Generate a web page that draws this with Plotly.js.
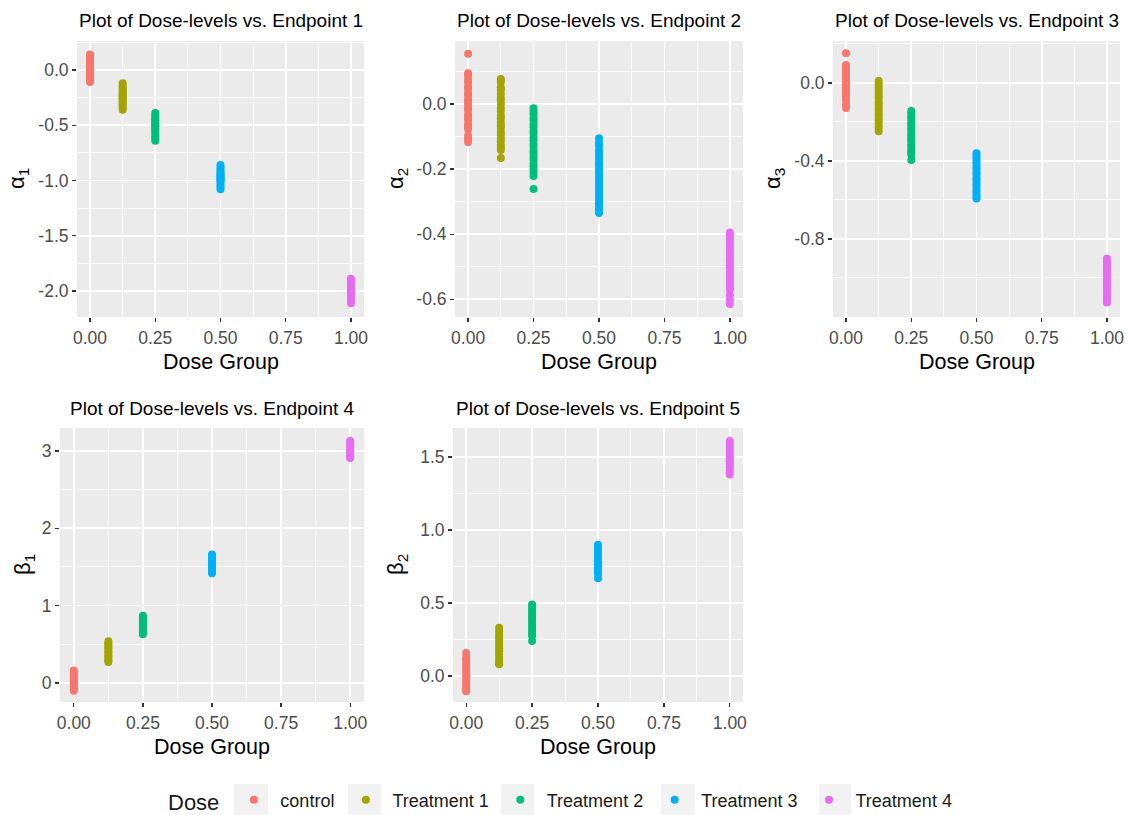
<!DOCTYPE html>
<html>
<head>
<meta charset="utf-8">
<script src="https://cdn.plot.ly/plotly-3.0.1.min.js"></script>
<style>html,body{margin:0;padding:0;background:#fff;}#chart{width:1129px;height:815px;}</style>
</head>
<body>
<div id="chart"></div>
<script>
// ---------------- data ----------------
const groupNames = ["control", "Treatment 1", "Treatment 2", "Treatment 3", "Treatment 4"];
const doseLevels = [0, 0.125, 0.25, 0.5, 1];
const groupColors = ["#F8766D", "#A3A500", "#00BF7D", "#00B0F6", "#E76BF3"];

const endpointTitles = [
  "Plot of Dose-levels vs. Endpoint 1",
  "Plot of Dose-levels vs. Endpoint 2",
  "Plot of Dose-levels vs. Endpoint 3",
  "Plot of Dose-levels vs. Endpoint 4",
  "Plot of Dose-levels vs. Endpoint 5"
];
const yLabels = ["α<sub>1</sub>", "α<sub>2</sub>", "α<sub>3</sub>", "β<sub>1</sub>", "β<sub>2</sub>"];
const xLabel = "Dose Group";
const xTickVals = [0, 0.25, 0.5, 0.75, 1];
const xTickText = ["0.00", "0.25", "0.50", "0.75", "1.00"];

// Endpoint 1 (alpha1)
const ep1_control = [0.14, 0.12, 0.10, 0.09, 0.07, 0.06, 0.05, 0.04, 0.03, 0.02, 0.01, 0.00, -0.01, -0.02, -0.03, -0.05, -0.06, -0.08, -0.09, -0.11];
const ep1_t1 = [-0.12, -0.14, -0.16, -0.17, -0.19, -0.20, -0.22, -0.23, -0.24, -0.25, -0.26, -0.27, -0.29, -0.30, -0.32, -0.34, -0.36];
const ep1_t2 = [-0.39, -0.41, -0.43, -0.45, -0.46, -0.48, -0.49, -0.50, -0.51, -0.53, -0.54, -0.56, -0.58, -0.60, -0.62, -0.64];
const ep1_t3 = [-0.86, -0.88, -0.90, -0.92, -0.93, -0.95, -0.96, -0.97, -0.98, -0.99, -1.00, -1.02, -1.04, -1.06, -1.08];
const ep1_t4 = [-1.89, -1.91, -1.93, -1.95, -1.96, -1.98, -1.99, -2.00, -2.01, -2.02, -2.04, -2.06, -2.08, -2.11];

// Endpoint 2 (alpha2)
const ep2_control = [0.155, 0.095, 0.086, 0.074, 0.066, 0.053, 0.046, 0.034, 0.027, 0.014, 0.006, 0.0, -0.011, -0.019, -0.032, -0.041, -0.049, -0.062, -0.07, -0.077, -0.097, -0.106, -0.117];
const ep2_t1 = [0.077, 0.068, 0.052, 0.044, 0.031, 0.019, 0.011, 0.0, -0.013, -0.024, -0.036, -0.044, -0.056, -0.065, -0.074, -0.086, -0.094, -0.106, -0.114, -0.126, -0.134, -0.141, -0.166];
const ep2_t2 = [-0.013, -0.023, -0.031, -0.043, -0.051, -0.063, -0.071, -0.083, -0.091, -0.103, -0.111, -0.123, -0.131, -0.143, -0.151, -0.163, -0.171, -0.183, -0.191, -0.203, -0.211, -0.221, -0.261];
const ep2_t3 = [-0.105, -0.118, -0.128, -0.142, -0.151, -0.163, -0.171, -0.183, -0.191, -0.203, -0.212, -0.223, -0.231, -0.243, -0.252, -0.263, -0.271, -0.283, -0.292, -0.303, -0.311, -0.323, -0.335];
const ep2_t4 = [-0.395, -0.404, -0.416, -0.424, -0.436, -0.444, -0.456, -0.464, -0.476, -0.484, -0.496, -0.504, -0.516, -0.524, -0.536, -0.544, -0.556, -0.564, -0.572, -0.588, -0.603, -0.615];

// Endpoint 3 (alpha3)
const ep3_control = [0.152, 0.092, 0.081, 0.067, 0.056, 0.042, 0.031, 0.019, 0.008, -0.006, -0.017, -0.031, -0.042, -0.056, -0.067, -0.079, -0.087, -0.11, -0.128];
const ep3_t1 = [0.01, -0.006, -0.019, -0.036, -0.049, -0.066, -0.079, -0.096, -0.109, -0.126, -0.139, -0.156, -0.169, -0.186, -0.199, -0.216, -0.228, -0.248];
const ep3_t2 = [-0.144, -0.157, -0.173, -0.185, -0.201, -0.213, -0.229, -0.241, -0.257, -0.269, -0.285, -0.297, -0.313, -0.325, -0.341, -0.354, -0.368, -0.395];
const ep3_t3 = [-0.36, -0.375, -0.387, -0.403, -0.415, -0.431, -0.443, -0.459, -0.471, -0.487, -0.499, -0.515, -0.527, -0.543, -0.555, -0.571, -0.582, -0.592];
const ep3_t4 = [-0.9, -0.916, -0.929, -0.946, -0.959, -0.976, -0.989, -1.006, -1.019, -1.036, -1.049, -1.066, -1.079, -1.096, -1.109, -1.126];

// Endpoint 4 (beta1)
const ep4_control = [0.16, 0.14, 0.12, 0.1, 0.08, 0.06, 0.04, 0.02, 0.0, -0.02, -0.04, -0.06, -0.08, -0.1];
const ep4_t1 = [0.54, 0.51, 0.49, 0.46, 0.44, 0.41, 0.39, 0.36, 0.34, 0.31, 0.29, 0.27];
const ep4_t2 = [0.87, 0.85, 0.82, 0.8, 0.78, 0.75, 0.73, 0.7, 0.68, 0.65, 0.63];
const ep4_t3 = [1.66, 1.63, 1.61, 1.58, 1.56, 1.53, 1.51, 1.48, 1.46, 1.44, 1.42];
const ep4_t4 = [3.13, 3.1, 3.08, 3.05, 3.03, 3.0, 2.98, 2.96, 2.93, 2.91];

// Endpoint 5 (beta2)
const ep5_control = [0.158, 0.125, 0.11, 0.09, 0.07, 0.05, 0.03, 0.01, -0.01, -0.03, -0.05, -0.07, -0.09, -0.105];
const ep5_t1 = [0.33, 0.31, 0.29, 0.27, 0.25, 0.23, 0.21, 0.19, 0.17, 0.15, 0.13, 0.11, 0.09, 0.08];
const ep5_t2 = [0.49, 0.47, 0.45, 0.43, 0.41, 0.39, 0.37, 0.35, 0.33, 0.31, 0.29, 0.275, 0.24];
const ep5_t3 = [0.9, 0.88, 0.86, 0.84, 0.82, 0.8, 0.78, 0.76, 0.74, 0.72, 0.7, 0.67];
const ep5_t4 = [1.61, 1.59, 1.57, 1.55, 1.53, 1.51, 1.49, 1.47, 1.45, 1.43, 1.41, 1.38];

const endpointData = [
  [ep1_control, ep1_t1, ep1_t2, ep1_t3, ep1_t4],
  [ep2_control, ep2_t1, ep2_t2, ep2_t3, ep2_t4],
  [ep3_control, ep3_t1, ep3_t2, ep3_t3, ep3_t4],
  [ep4_control, ep4_t1, ep4_t2, ep4_t3, ep4_t4],
  [ep5_control, ep5_t1, ep5_t2, ep5_t3, ep5_t4]
];

// y-axis ticks per endpoint
const yTickVals = [
  [-2, -1.5, -1, -0.5, 0],
  [-0.6, -0.4, -0.2, 0],
  [-0.8, -0.4, 0],
  [0, 1, 2, 3],
  [0, 0.5, 1, 1.5]
];
const yTickText = [
  ["-2.0", "-1.5", "-1.0", "-0.5", "0.0"],
  ["-0.6", "-0.4", "-0.2", "0.0"],
  ["-0.8", "-0.4", "0.0"],
  ["0", "1", "2", "3"],
  ["0.0", "0.5", "1.0", "1.5"]
];

// ---------------- layout geometry (pixels) ----------------
const W = 1129, H = 815;
const panels = [
  {l: 77,  r: 364,  t: 41,  b: 317, yr: [-2.235, 0.262], ym: 0.25, y0m: 0.25},
  {l: 455, r: 743,  t: 41,  b: 317, yr: [-0.655, 0.194], ym: 0.2,  y0m: 0.1},
  {l: 833, r: 1120, t: 41,  b: 317, yr: [-1.2, 0.215],   ym: 0.4,  y0m: 0.2},
  {l: 60,  r: 364,  t: 428, b: 702, yr: [-0.246, 3.297], ym: 1,    y0m: 0.5},
  {l: 453, r: 743,  t: 428, b: 702, yr: [-0.178, 1.699], ym: 0.5,  y0m: 0.25}
];
const fx = p => p / W;
const fy = p => 1 - p / H;

const FONT = "Liberation Sans, Arial, sans-serif";
const traces = [];
const layout = {
  width: W, height: H,
  margin: {l: 0, r: 0, t: 0, b: 0, pad: 0, autoexpand: false},
  paper_bgcolor: "#FFFFFF",
  plot_bgcolor: "#EBEBEB",
  font: {family: FONT, color: "#1A1A1A"},
  showlegend: true,
  legend: {
    orientation: "h",
    xref: "container", yref: "container",
    x: fx(166), xanchor: "left",
    y: fy(801), yanchor: "middle",
    bgcolor: "rgba(0,0,0,0)",
    font: {size: 18, color: "#1A1A1A", family: FONT},
    title: {text: "Dose", font: {size: 22, color: "#1A1A1A", family: FONT}, side: "left"},
    itemwidth: 43,
    tracegroupgap: 0
  },
  annotations: [],
  shapes: []
};

panels.forEach((p, i) => {
  const ax = i === 0 ? "" : String(i + 1);
  const xa = "xaxis" + ax, ya = "yaxis" + ax;
  layout[xa] = {
    domain: [fx(p.l), fx(p.r)],
    anchor: "y" + ax,
    range: [-0.05, 1.05],
    tickmode: "array", tickvals: xTickVals, ticktext: xTickText,
    ticks: "outside", ticklen: 4, tickwidth: 1.2, tickcolor: "#333333",
    ticklabelstandoff: 1,
    tickfont: {size: 17.5, color: "#4D4D4D", family: FONT},
    showgrid: true, gridcolor: "#FFFFFF", gridwidth: 1.6,
    minor: {tick0: 0.125, dtick: 0.25, showgrid: true, gridcolor: "#FFFFFF", gridwidth: 0.8, ticks: ""},
    zeroline: false, showline: false, fixedrange: true, automargin: false
  };
  layout[ya] = {
    domain: [fy(p.b), fy(p.t)],
    anchor: "x" + ax,
    range: p.yr,
    tickmode: "array", tickvals: yTickVals[i], ticktext: yTickText[i],
    ticks: "outside", ticklen: 4, tickwidth: 1.2, tickcolor: "#333333",
    tickfont: {size: 17.5, color: "#4D4D4D", family: FONT},
    showgrid: true, gridcolor: "#FFFFFF", gridwidth: 1.6,
    minor: {tick0: p.y0m, dtick: p.ym, showgrid: true, gridcolor: "#FFFFFF", gridwidth: 0.8, ticks: ""},
    zeroline: false, showline: false, fixedrange: true, automargin: false
  };

  endpointData[i].forEach((vals, g) => {
    traces.push({
      type: "scatter", mode: "markers",
      x: vals.map(() => doseLevels[g]),
      y: vals,
      xaxis: "x" + ax, yaxis: "y" + ax,
      name: groupNames[g],
      legendgroup: groupNames[g],
      showlegend: i === 0,
      marker: {color: groupColors[g], size: 8, line: {width: 0}},
      hoverinfo: "x+y+name"
    });
  });

  const cx = (p.l + p.r) / 2;
  // panel title
  layout.annotations.push({
    text: endpointTitles[i], xref: "paper", yref: "paper",
    x: fx(cx), y: fy(p.t - 20), xanchor: "center", yanchor: "middle",
    showarrow: false, font: {size: 19, color: "#000000", family: FONT}
  });
  // x-axis title
  layout.annotations.push({
    text: xLabel, xref: "paper", yref: "paper",
    x: fx(cx), y: fy(p.b + 45), xanchor: "center", yanchor: "middle",
    showarrow: false, font: {size: 21.5, color: "#000000", family: FONT}
  });
});

// y-axis titles
const yTitleX = [18, 397, 774, 24, 397];
panels.forEach((p, i) => {
  layout.annotations.push({
    text: yLabels[i], xref: "paper", yref: "paper",
    x: fx(yTitleX[i]), y: fy((p.t + p.b) / 2), xanchor: "center", yanchor: "middle",
    textangle: -90, showarrow: false, font: {size: 22, color: "#000000", family: FONT}
  });
});

// legend key backgrounds (ggplot grey95 key boxes)
const keyBoxes = [[234, 268], [348, 381], [501, 534], [661, 695], [819, 851]];
keyBoxes.forEach(b => {
  layout.shapes.push({
    type: "rect", xref: "paper", yref: "paper", layer: "below",
    x0: fx(b[0]), x1: fx(b[1]), y0: fy(818), y1: fy(784),
    fillcolor: "#F2F2F2", line: {width: 0}
  });
});

Plotly.newPlot("chart", traces, layout, {staticPlot: true, displayModeBar: false});
</script>
</body>
</html>
